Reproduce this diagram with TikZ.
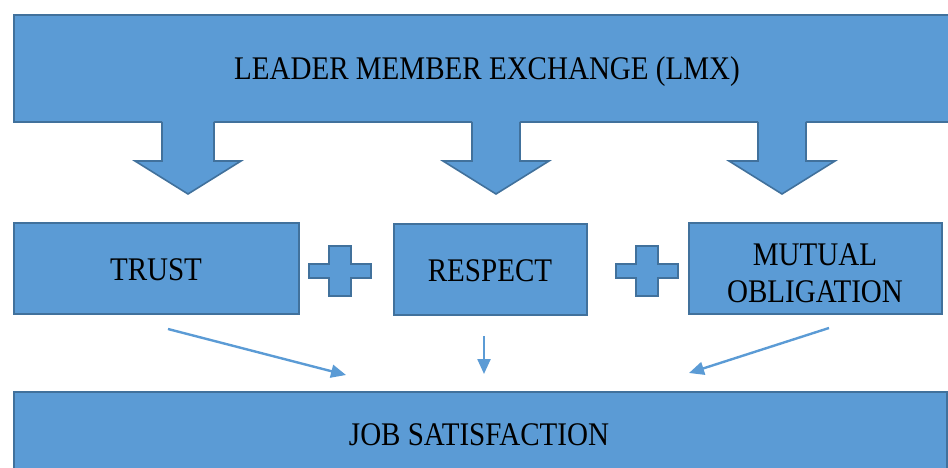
\documentclass[tikz,border=0pt]{standalone}
\usepackage{fontspec}
\setmainfont{Liberation Serif}[FakeStretch=0.88]
\usetikzlibrary{arrows.meta}
\definecolor{boxfill}{HTML}{5B9BD5}
\definecolor{boxline}{HTML}{41719C}
\begin{document}
\begin{tikzpicture}[x=1pt,y=-1pt,
  box/.style={draw=boxline, fill=boxfill, line width=1.6pt, inner sep=0pt, anchor=north west},
  lbl/.style={inner sep=0pt, font=\fontsize{33}{37}\selectfont, align=center},
  one/.style={text height=22pt, text depth=0pt},
  blockfill/.style={fill=boxfill},
  blockline/.style={draw=boxline, line width=1.6pt, line join=miter},
  thinarrow/.style={draw=boxfill, line width=2.4pt, -{Triangle[length=15pt,width=13pt]}}]
\useasboundingbox (0,0) rectangle (948,468);
\clip (0,0) rectangle (948,468);
% boxes
\node[box, minimum width=942pt, minimum height=107pt] (lmx) at (13,14) {};
\node[box, minimum width=285pt, minimum height=91pt] (trust) at (13,222) {};
\node[box, minimum width=193pt, minimum height=91pt] (respect) at (393,223) {};
\node[box, minimum width=253pt, minimum height=91pt] (mutual) at (688,222) {};
\node[box, minimum width=933pt, minimum height=86pt] (job) at (13,391) {};
% texts
\node[lbl, one] (lmxt) at (487,69) {LEADER MEMBER EXCHANGE (LMX)};
\node[lbl, one] (trustt) at (156,269) {TRUST};
\node[lbl, one] (respectt) at (490,270) {RESPECT};
\node[lbl] (mutualt) at (815,273) {MUTUAL\\OBLIGATION};
\node[lbl, one] (jobt) at (479,434) {JOB SATISFACTION};
% block arrows
\foreach \cx/\hw in {188/26,496/24,782/24}{
  \fill[blockfill] (\cx-\hw,121) -- (\cx+\hw,121) -- (\cx+\hw,161) -- (\cx+53,161) -- (\cx,194) -- (\cx-53,161) -- (\cx-\hw,161) -- cycle;
  \draw[blockline] (\cx+\hw,121.8) -- (\cx+\hw,161) -- (\cx+53,161) -- (\cx,194) -- (\cx-53,161) -- (\cx-\hw,161) -- (\cx-\hw,121.8);
}
% plus signs
\foreach \px in {340,647}{
  \draw[blockline, fill=boxfill] (\px-11,246) -- (\px+11,246) -- (\px+11,264) -- (\px+31,264) -- (\px+31,278) -- (\px+11,278) -- (\px+11,296) -- (\px-11,296) -- (\px-11,278) -- (\px-31,278) -- (\px-31,264) -- (\px-11,264) -- cycle;
}
% thin arrows
\coordinate (s1) at (168,329);
\coordinate (e1) at (346,375);
\coordinate (s2) at (484,336);
\coordinate (e2) at (484,374);
\coordinate (s3) at (829,328);
\coordinate (e3) at (689,373);
\draw[thinarrow] (s1) -- (e1);
\draw[thinarrow] (s2) -- (e2);
\draw[thinarrow] (s3) -- (e3);
\end{tikzpicture}
\end{document}
